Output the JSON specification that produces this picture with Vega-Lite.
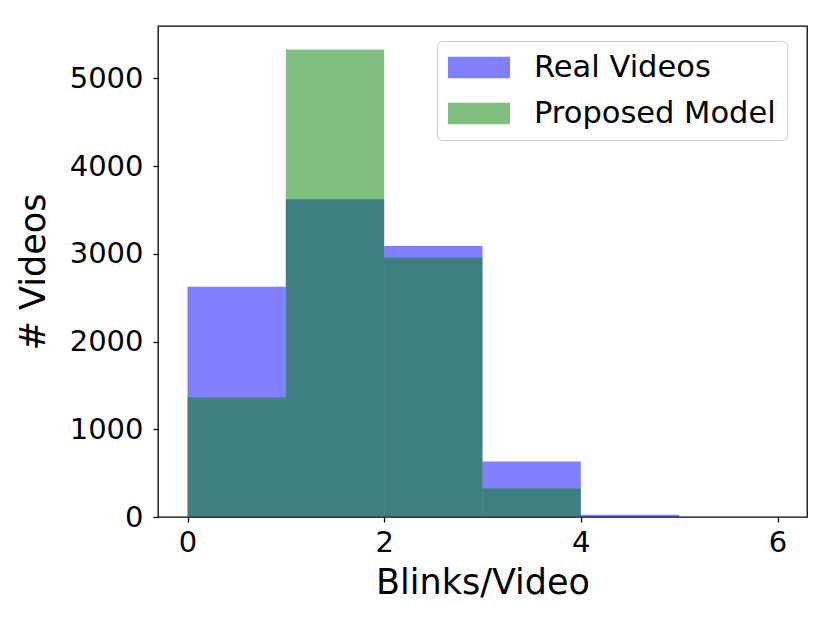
{
  "$schema": "https://vega.github.io/schema/vega-lite/v6.json",
  "autosize": "none",
  "width": 649,
  "height": 491,
  "padding": {"left": 158, "top": 26, "right": 23, "bottom": 108},
  "background": "white",
  "config": {
    "font": "DejaVu Sans",
    "view": {"stroke": "#000000", "strokeWidth": 1.3},
    "axis": {
      "domain": false,
      "grid": false,
      "ticks": true,
      "tickColor": "#000000",
      "tickWidth": 1.3,
      "tickSize": 5,
      "labelFont": "DejaVu Sans",
      "labelFontSize": 29,
      "labelColor": "#000000",
      "titleFont": "DejaVu Sans",
      "titleFontSize": 35,
      "titleFontWeight": "normal",
      "titleColor": "#000000"
    }
  },
  "data": {
    "values": [
      {"series": "Real Videos", "bin_start": 0, "bin_end": 1, "count": 2626},
      {"series": "Real Videos", "bin_start": 1, "bin_end": 2, "count": 3622},
      {"series": "Real Videos", "bin_start": 2, "bin_end": 3, "count": 3090},
      {"series": "Real Videos", "bin_start": 3, "bin_end": 4, "count": 633},
      {"series": "Real Videos", "bin_start": 4, "bin_end": 5, "count": 25},
      {"series": "Real Videos", "bin_start": 5, "bin_end": 6, "count": 0},
      {"series": "Proposed Model", "bin_start": 0, "bin_end": 1, "count": 1362},
      {"series": "Proposed Model", "bin_start": 1, "bin_end": 2, "count": 5330},
      {"series": "Proposed Model", "bin_start": 2, "bin_end": 3, "count": 2957},
      {"series": "Proposed Model", "bin_start": 3, "bin_end": 4, "count": 326},
      {"series": "Proposed Model", "bin_start": 4, "bin_end": 5, "count": 3},
      {"series": "Proposed Model", "bin_start": 5, "bin_end": 6, "count": 0}
    ]
  },
  "mark": {"type": "bar", "opacity": 0.5, "strokeWidth": 0},
  "encoding": {
    "x": {
      "field": "bin_start",
      "type": "quantitative",
      "scale": {"domain": [-0.3, 6.3], "nice": false, "zero": false},
      "axis": {"values": [0, 2, 4, 6], "format": "d", "labelPadding": 6, "title": "Blinks/Video", "titlePadding": 8}
    },
    "x2": {"field": "bin_end"},
    "y": {
      "field": "count",
      "type": "quantitative",
      "stack": null,
      "scale": {"domain": [0, 5597], "nice": false},
      "axis": {"values": [0, 1000, 2000, 3000, 4000, 5000], "format": "d", "labelPadding": 10, "title": "# Videos", "titlePadding": 18}
    },
    "y2": {"datum": 0},
    "color": {
      "field": "series",
      "type": "nominal",
      "scale": {"domain": ["Real Videos", "Proposed Model"], "range": ["#0000ff", "#008000"]},
      "legend": {
        "title": null,
        "orient": "none",
        "legendX": 279,
        "legendY": 15,
        "symbolType": "M-1,-0.7H3V0.7H-1Z",
        "symbolSize": 961,
        "symbolOpacity": 0.5,
        "symbolStrokeWidth": 0,
        "labelFont": "DejaVu Sans",
        "labelFontSize": 30.5,
        "labelColor": "#000000",
        "labelOffset": 55,
        "labelLimit": 400,
        "rowPadding": 15,
        "padding": 11,
        "strokeColor": "#cccccc",
        "fillColor": "rgba(255,255,255,0.8)",
        "cornerRadius": 5
      }
    }
  }
}
